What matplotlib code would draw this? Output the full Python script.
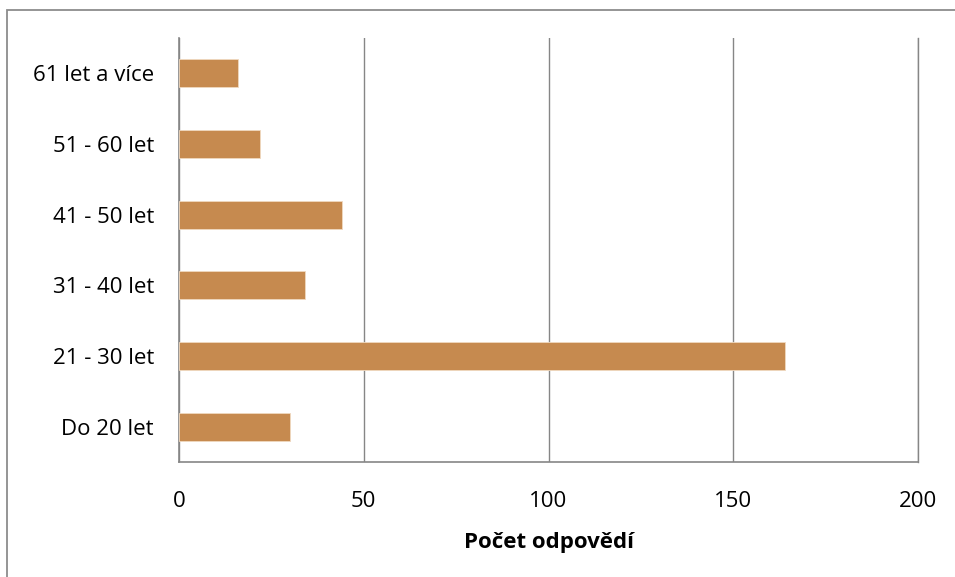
import matplotlib
matplotlib.use("Agg")
import matplotlib.pyplot as plt
from matplotlib.patches import Rectangle

categories = ["Do 20 let", "21 - 30 let", "31 - 40 let", "41 - 50 let", "51 - 60 let", "61 let a více"]
values = [30, 164, 34, 44, 22, 16]
xticks = [0, 50, 100, 150, 200]

BAR = "#C68A4F"
GRID = "#868686"

plt.rcParams["font.family"] = ["Open Sans", "DejaVu Sans"]

fig = plt.figure(figsize=(9.55, 5.77), dpi=100, facecolor="white")
ax = fig.add_axes([179 / 955, 1 - 462 / 577, (918 - 179) / 955, (462 - 38) / 577])

ax.barh(range(len(categories)), values, height=0.4, color=BAR, edgecolor="#F0D9C0", linewidth=0.6, zorder=3)
ax.set_xlim(0, 200)
ax.set_ylim(-0.5, len(categories) - 0.5)
ax.set_xticks(xticks)
ax.set_yticks(range(len(categories)))
ax.set_yticklabels(categories)
ax.tick_params(axis="both", length=0, labelsize=16, colors="black")
ax.tick_params(axis="x", pad=21)
ax.tick_params(axis="y", pad=18)
ax.xaxis.grid(True, color=GRID, linewidth=1.0, zorder=0)
ax.spines["top"].set_visible(False)
ax.spines["right"].set_color(GRID)
ax.spines["right"].set_linewidth(1.0)
for side in ("left", "bottom"):
    ax.spines[side].set_color(GRID)
    ax.spines[side].set_linewidth(1.2)

ax.set_xlabel("Počet odpovědí", fontsize=16, weight="bold", labelpad=14)

# outer chart-area border (cut off on the right and bottom)
fig.patches.append(Rectangle((7 / 955, -0.05), 1.0, 1 - 10 / 577 + 0.05, transform=fig.transFigure,
                             fill=False, edgecolor="#8C8C8C", linewidth=1.3))

fig.savefig("out.png", dpi=100, facecolor="white")
